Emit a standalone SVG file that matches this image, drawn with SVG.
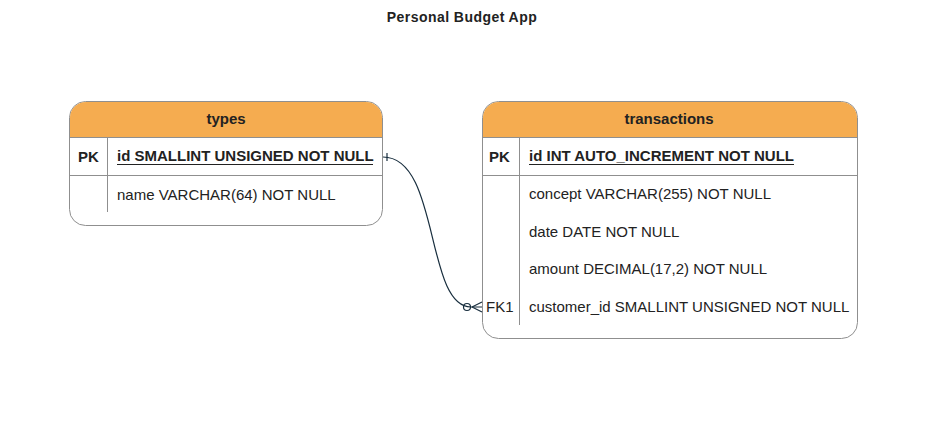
<svg xmlns="http://www.w3.org/2000/svg" width="927" height="439" viewBox="0 0 927 439">
<style>
.box{fill:#fff;stroke:#8f8f8f;stroke-width:1}
.hdr{fill:#F5AC50;stroke:none}
.ln{stroke:#8f8f8f;stroke-width:1;fill:none}
.ul{stroke:#222;stroke-width:1.2;fill:none}
text{font-family:"Liberation Sans",Arial,sans-serif;font-size:15px;fill:#222}
.b{font-weight:bold}
.edge{fill:none;stroke:#182E3E;stroke-width:1.2}
</style>
<rect width="927" height="439" fill="#fff"/>
<text x="462" y="22" text-anchor="middle" class="b" style="font-size:14px;letter-spacing:0.45px">Personal Budget App</text>
<g id="types">
<rect class="box" x="69.5" y="101.5" width="313" height="124" rx="16"/>
<path class="hdr" d="M70 137 V117 A16 16 0 0 1 86 102 H366 A16 16 0 0 1 382 117 V137 Z"/>
<path class="ln" d="M69.5 137.5 H382.5 M69.5 175.5 H382.5 M107.5 137.5 V212"/>
<text x="226" y="124" text-anchor="middle" class="b">types</text>
<text x="78" y="162" class="b">PK</text>
<text x="117" y="161" class="b">id SMALLINT UNSIGNED NOT NULL</text>
<path class="ul" d="M117 164.5 H373"/>
<text x="117" y="200">name VARCHAR(64) NOT NULL</text>
</g>
<g id="transactions">
<rect class="box" x="482.5" y="101.5" width="375" height="237" rx="16"/>
<path class="hdr" d="M483 137 V117 A16 16 0 0 1 499 102 H841 A16 16 0 0 1 857 117 V137 Z"/>
<path class="ln" d="M482.5 137.5 H857.5 M482.5 175.5 H857.5 M519.5 137.5 V325"/>
<text x="669" y="124" text-anchor="middle" class="b">transactions</text>
<text x="489" y="162" class="b">PK</text>
<text x="529" y="161" class="b">id INT AUTO_INCREMENT NOT NULL</text>
<path class="ul" d="M529 164.5 H794"/>
<text x="529" y="199">concept VARCHAR(255) NOT NULL</text>
<text x="529" y="237">date DATE NOT NULL</text>
<text x="529" y="274">amount DECIMAL(17,2) NOT NULL</text>
<text x="486" y="312">FK1</text>
<text x="529" y="312">customer_id SMALLINT UNSIGNED NOT NULL</text>
</g>
<g id="connectors">
<path class="edge" d="M383 157 C440 157 425 307 471 307 H482"/>
<path class="edge" d="M387 153 V161"/>
<path class="edge" d="M472 307 L482 302 M472 307 L482 312"/>
<circle class="edge" cx="467" cy="307" r="3.5" fill="#fff"/>
</g>
</svg>
